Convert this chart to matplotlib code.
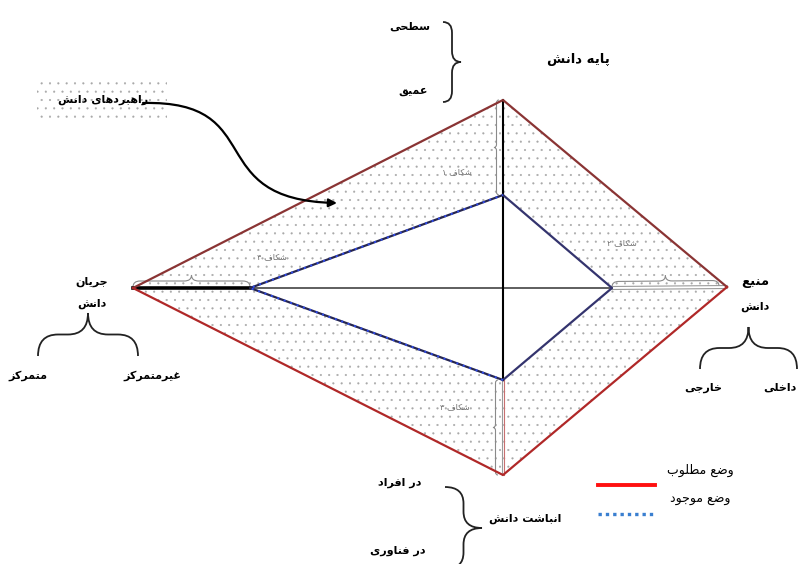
import matplotlib.pyplot as plt
from matplotlib.path import Path
from matplotlib.patches import PathPatch, Polygon, Rectangle, FancyArrowPatch

# diagram corners (pixel units of the original picture, y grows downward)
outer_x = [133, 503, 727, 503]   # desired state: left, top, right, bottom
outer_y = [288, 100, 287, 475]
inner_x = [250, 503, 612, 503]   # current state
inner_y = [288, 195, 288, 380]

gap_labels = ["شکاف ۱", "شکاف ۲", "شکاف ۳", "شکاف ۴"]
legend_labels = ["وضع مطلوب", "وضع موجود"]

# minimal arabic/persian shaping: (isolated, final, initial, medial)
FORMS = {
    'ا': (0xFE8D, 0xFE8E), 'د': (0xFEA9, 0xFEAA), 'ر': (0xFEAD, 0xFEAE),
    'ز': (0xFEAF, 0xFEB0), 'و': (0xFEED, 0xFEEE),
    'ب': (0xFE8F, 0xFE90, 0xFE91, 0xFE92), 'پ': (0xFB56, 0xFB57, 0xFB58, 0xFB59),
    'ت': (0xFE95, 0xFE96, 0xFE97, 0xFE98), 'ج': (0xFE9D, 0xFE9E, 0xFE9F, 0xFEA0),
    'ح': (0xFEA1, 0xFEA2, 0xFEA3, 0xFEA4), 'خ': (0xFEA5, 0xFEA6, 0xFEA7, 0xFEA8),
    'س': (0xFEB1, 0xFEB2, 0xFEB3, 0xFEB4), 'ش': (0xFEB5, 0xFEB6, 0xFEB7, 0xFEB8),
    'ض': (0xFEBD, 0xFEBE, 0xFEBF, 0xFEC0), 'ط': (0xFEC1, 0xFEC2, 0xFEC3, 0xFEC4),
    'ع': (0xFEC9, 0xFECA, 0xFECB, 0xFECC), 'غ': (0xFECD, 0xFECE, 0xFECF, 0xFED0),
    'ف': (0xFED1, 0xFED2, 0xFED3, 0xFED4), 'ق': (0xFED5, 0xFED6, 0xFED7, 0xFED8),
    'ک': (0xFB8E, 0xFB8F, 0xFB90, 0xFB91), 'ل': (0xFEDD, 0xFEDE, 0xFEDF, 0xFEE0),
    'م': (0xFEE1, 0xFEE2, 0xFEE3, 0xFEE4), 'ن': (0xFEE5, 0xFEE6, 0xFEE7, 0xFEE8),
    'ه': (0xFEE9, 0xFEEA, 0xFEEB, 0xFEEC), 'ی': (0xFBFC, 0xFBFD, 0xFBFE, 0xFBFF),
}


def fa(s):
    out = []
    for i, ch in enumerate(s):
        if ch not in FORMS:
            out.append(ch)
            continue
        prev = s[i - 1] if i > 0 else ' '
        nxt = s[i + 1] if i < len(s) - 1 else ' '
        jp = prev in FORMS and len(FORMS[prev]) == 4
        jn = len(FORMS[ch]) == 4 and nxt in FORMS
        f = FORMS[ch]
        if jp and jn:
            c = f[3]
        elif jp:
            c = f[1]
        elif jn:
            c = f[2]
        else:
            c = f[0]
        out.append(chr(c))
    return ''.join(reversed(out))


def brace(ax, p0, p1, depth, color='#222222', lw=1.3):
    L = ((p1[0] - p0[0]) ** 2 + (p1[1] - p0[1]) ** 2) ** 0.5
    ux, uy = (p1[0] - p0[0]) / L, (p1[1] - p0[1]) / L
    nx, ny = -uy, ux
    r = min(abs(depth) * 0.6, L / 5)
    h = depth / 2
    local = [(0, 0), (0, h), (r, h), (L / 2 - r, h), (L / 2, h), (L / 2, depth),
             (L / 2, h), (L / 2 + r, h), (L - r, h), (L, h), (L, 0)]
    codes = [Path.MOVETO, Path.CURVE3, Path.CURVE3, Path.LINETO, Path.CURVE3, Path.CURVE3,
             Path.CURVE3, Path.CURVE3, Path.LINETO, Path.CURVE3, Path.CURVE3]
    verts = [(p0[0] + t * ux + s * nx, p0[1] + t * uy + s * ny) for t, s in local]
    ax.add_patch(PathPatch(Path(verts, codes), fill=False, edgecolor=color, lw=lw))


plt.rcParams['font.family'] = ['DejaVu Sans']
plt.rcParams['hatch.linewidth'] = 0.3

fig = plt.figure(figsize=(8, 5.64), dpi=100)
ax = fig.add_axes([0, 0, 1, 1])
ax.set_xlim(0, 800)
ax.set_ylim(564, 0)
ax.axis('off')

outer = list(zip(outer_x, outer_y))
inner = list(zip(inner_x, inner_y))

# stippled band between the two states
dots = '#a8a8a8'
ax.add_patch(Polygon(outer, closed=True, facecolor='white', edgecolor=dots, lw=0,
                     hatch='..', zorder=1))
ax.add_patch(Polygon(inner, closed=True, facecolor='white', edgecolor='none', zorder=2))
ax.add_patch(Rectangle((37, 78), 130, 45, facecolor='white', edgecolor=dots, lw=0,
                       hatch='..', zorder=1))

# axes of the diamond
ax.plot([outer_x[0], inner_x[2]], [outer_y[0], inner_y[2]], color='#333333', lw=1.1, zorder=3)
ax.plot([outer_x[0], inner_x[0]], [outer_y[0], inner_y[0]], color='black', lw=2.6, zorder=4)
ax.plot([outer_x[1], inner_x[3]], [outer_y[1], inner_y[3]], color='black', lw=1.5, zorder=3)
ax.plot([inner_x[2], outer_x[2]], [inner_y[2] - 1.5, outer_y[2] - 1.5], color='#9a9a9a', lw=0.8, zorder=3)
ax.plot([inner_x[2], outer_x[2]], [inner_y[2] + 1.5, outer_y[2] + 1.5], color='#9a9a9a', lw=0.8, zorder=3)
ax.plot([inner_x[3] - 1.5, outer_x[3] - 1.5], [inner_y[3], outer_y[3]], color='#9a9a9a', lw=0.8, zorder=3)
ax.plot([inner_x[3] + 1.2, outer_x[3] + 1.2], [inner_y[3], outer_y[3]], color='#c87070', lw=0.8, zorder=3)

# gap braces
brace(ax, (outer_x[1] - 4, outer_y[1]), (inner_x[1] - 4, inner_y[1]), 5, color='#8a8a8a', lw=0.8)
brace(ax, (inner_x[2], inner_y[2] - 1), (outer_x[2] - 8, outer_y[2] - 1), -11, color='#8a8a8a', lw=0.8)
brace(ax, (inner_x[3] - 5, inner_y[3]), (outer_x[3] - 5, outer_y[3]), 5, color='#8a8a8a', lw=0.8)
brace(ax, (outer_x[0], outer_y[0] - 1), (inner_x[0], inner_y[0] - 1), -12, color='#8a8a8a', lw=0.8)

# desired state (outer)
ax.plot(outer_x[:3], outer_y[:3], color='#8a3434', lw=1.6, zorder=5)
ax.plot(outer_x[2:] + outer_x[:1], outer_y[2:] + outer_y[:1], color='#b02828', lw=1.6, zorder=5)

# current state (inner)
ax.plot(inner_x[1:4], inner_y[1:4], color='#34346e', lw=1.6, zorder=5)
ax.plot([inner_x[3], inner_x[0], inner_x[1]], [inner_y[3], inner_y[0], inner_y[1]],
        color='#262650', lw=1.6, zorder=5)
ax.plot([inner_x[3], inner_x[0], inner_x[1]], [inner_y[3], inner_y[0], inner_y[1]],
        color='#2f4cf0', lw=1.4, ls=(0, (1, 2.5)), zorder=6)

# gap labels
gap_pos = [(457, 172), (622, 243), (455, 407), (272, 257)]
for lab, (x, y) in zip(gap_labels, gap_pos):
    ax.text(x, y, fa(lab), fontsize=6, color='#707070', ha='center', va='center', zorder=7)

# curved arrow
arrow_path = Path([(143, 103), (270, 100), (200, 200), (337, 203)],
                  [Path.MOVETO, Path.CURVE4, Path.CURVE4, Path.CURVE4])
ax.add_patch(FancyArrowPatch(path=arrow_path, arrowstyle='-|>', mutation_scale=12,
                             color='black', lw=1.6, zorder=8))

bold = dict(fontsize=8, fontweight='bold', ha='center', va='center', color='black', zorder=9)
ax.text(103, 100, fa("راهبردهای دانش"), **bold)

# knowledge base (top)
ax.text(410, 27, fa("سطحی"), **bold)
ax.text(413, 91, fa("عمیق"), **bold)
brace(ax, (443, 22), (443, 102), -18)
ax.text(578, 59, fa("پایه دانش"), **dict(bold, fontsize=9.5))

# knowledge flow (left)
ax.text(92, 282, fa("جریان"), **bold)
ax.text(92, 304, fa("دانش"), **bold)
brace(ax, (38, 356), (138, 356), -43)
ax.text(28, 376, fa("متمرکز"), **bold)
ax.text(152, 376, fa("غیرمتمرکز"), **bold)

# knowledge source (right)
ax.text(755, 281, fa("منبع"), **dict(bold, fontsize=9.5))
ax.text(755, 307, fa("دانش"), **bold)
brace(ax, (700, 369), (797, 369), -42)
ax.text(703, 388, fa("خارجی"), **bold)
ax.text(797, 388, fa("داخلی"), **dict(bold, ha='right'))

# knowledge stock (bottom)
ax.text(400, 483, fa("در افراد"), **bold)
ax.text(398, 551, fa("در فناوری"), **bold)
brace(ax, (445, 487), (445, 569), -37)
ax.text(525, 519, fa("انباشت دانش"), **bold)

# legend
ax.plot([598, 655], [485, 485], color='#ff1010', lw=2.8, zorder=9)
ax.plot([598, 655], [514, 514], color='#3a7fd0', lw=2.4, ls=(0, (1, 1.2)), zorder=9)
ax.text(700, 470, fa(legend_labels[0]), fontsize=9, ha='center', va='center')
ax.text(700, 500, fa(legend_labels[1]), fontsize=9, ha='center', va='center')

fig.savefig('out.png', dpi=100)
